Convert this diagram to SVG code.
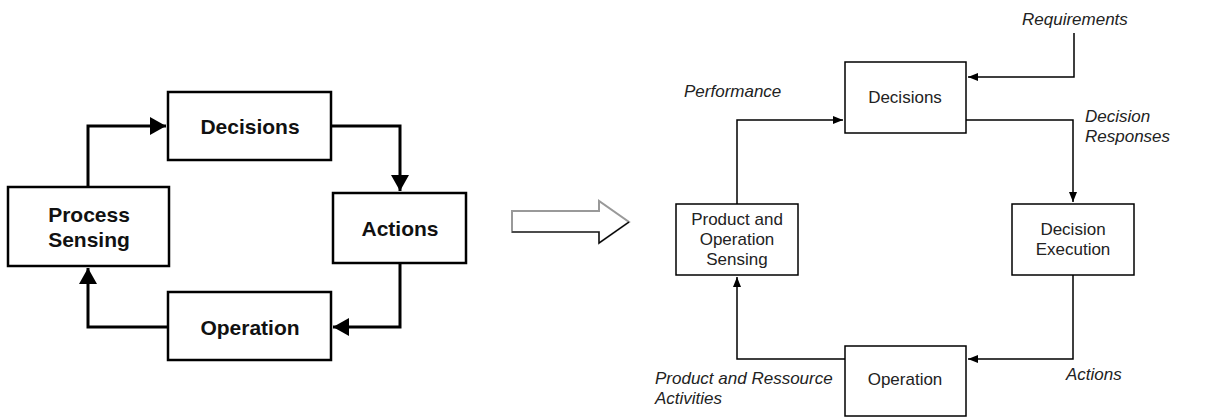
<svg xmlns="http://www.w3.org/2000/svg" width="1213" height="418" viewBox="0 0 1213 418">
<style>
.lbox{fill:#fff;stroke:#000;stroke-width:2.5}
.ltxt{font-family:"Liberation Sans",Arial,sans-serif;font-size:21px;font-weight:bold;fill:#111;text-anchor:middle}
.lcon{fill:none;stroke:#000;stroke-width:3}
.rbox{fill:#fff;stroke:#000;stroke-width:1.5}
.rtxt{font-family:"Liberation Sans",Arial,sans-serif;font-size:17px;fill:#222;text-anchor:middle}
.rlab{font-family:"Liberation Sans",Arial,sans-serif;font-size:17px;font-style:italic;fill:#222}
.rcon{fill:none;stroke:#000;stroke-width:1.5}
</style>
<defs>
<marker id="bigArrow" markerUnits="userSpaceOnUse" markerWidth="17" markerHeight="18" refX="16" refY="9" orient="auto">
<path d="M0,0 L16,9 L0,18 z" fill="#000"/>
</marker>
<marker id="smallArrow" markerUnits="userSpaceOnUse" markerWidth="11" markerHeight="8" refX="10" refY="4" orient="auto">
<path d="M0,0 L10,4 L0,8 z" fill="#000"/>
</marker>
</defs>

<g id="left-connectors">
<path class="lcon" d="M88,187 V126 H166" marker-end="url(#bigArrow)"/>
<path class="lcon" d="M331,126 H400 V191" marker-end="url(#bigArrow)"/>
<path class="lcon" d="M400,263 V327 H333" marker-end="url(#bigArrow)"/>
<path class="lcon" d="M168,327 H88 V268" marker-end="url(#bigArrow)"/>
</g>
<g id="l-decisions">
<rect class="lbox" x="168" y="92" width="163" height="68"/>
<text class="ltxt" x="250" y="134">Decisions</text>
</g>
<g id="l-process-sensing">
<rect class="lbox" x="8" y="187" width="161" height="79"/>
<text class="ltxt" x="89" y="222">Process</text>
<text class="ltxt" x="89" y="247">Sensing</text>
</g>
<g id="l-actions">
<rect class="lbox" x="333" y="193" width="133" height="70"/>
<text class="ltxt" x="400" y="236">Actions</text>
</g>
<g id="l-operation">
<rect class="lbox" x="168" y="292" width="163" height="68"/>
<text class="ltxt" x="250" y="335">Operation</text>
</g>

<g id="big-hollow-arrow">
<path d="M512,211 H599 V201 L629,222 L599,243 V232 H512 Z" fill="#fff" stroke="#999" stroke-width="2"/>
<path d="M512,232 H599 V243 L629,222" fill="none" stroke="#000" stroke-width="1.2"/>
</g>

<g id="right-connectors">
<path class="rcon" d="M1074,33 V77 H968" marker-end="url(#smallArrow)"/>
<path class="rcon" d="M737,204 V120 H843" marker-end="url(#smallArrow)"/>
<path class="rcon" d="M966,120 H1073 V202" marker-end="url(#smallArrow)"/>
<path class="rcon" d="M1073,275 V359 H968" marker-end="url(#smallArrow)"/>
<path class="rcon" d="M845,359 H737 V277" marker-end="url(#smallArrow)"/>
</g>
<g id="r-labels">
<text class="rlab" x="1022" y="25">Requirements</text>
<text class="rlab" x="684" y="97">Performance</text>
<text class="rlab" x="1085" y="122">Decision</text>
<text class="rlab" x="1085" y="142">Responses</text>
<text class="rlab" x="1066" y="380">Actions</text>
<text class="rlab" x="655" y="384">Product and Ressource</text>
<text class="rlab" x="655" y="404">Activities</text>
</g>
<g id="r-decisions">
<rect class="rbox" x="845" y="62" width="121" height="71"/>
<text class="rtxt" x="905" y="103">Decisions</text>
</g>
<g id="r-sensing">
<rect class="rbox" x="676" y="204" width="122" height="71"/>
<text class="rtxt" x="737" y="225">Product and</text>
<text class="rtxt" x="737" y="245">Operation</text>
<text class="rtxt" x="737" y="265">Sensing</text>
</g>
<g id="r-execution">
<rect class="rbox" x="1012" y="204" width="122" height="71"/>
<text class="rtxt" x="1073" y="235">Decision</text>
<text class="rtxt" x="1073" y="255">Execution</text>
</g>
<g id="r-operation">
<rect class="rbox" x="845" y="346" width="121" height="70"/>
<text class="rtxt" x="905" y="385">Operation</text>
</g>
</svg>
